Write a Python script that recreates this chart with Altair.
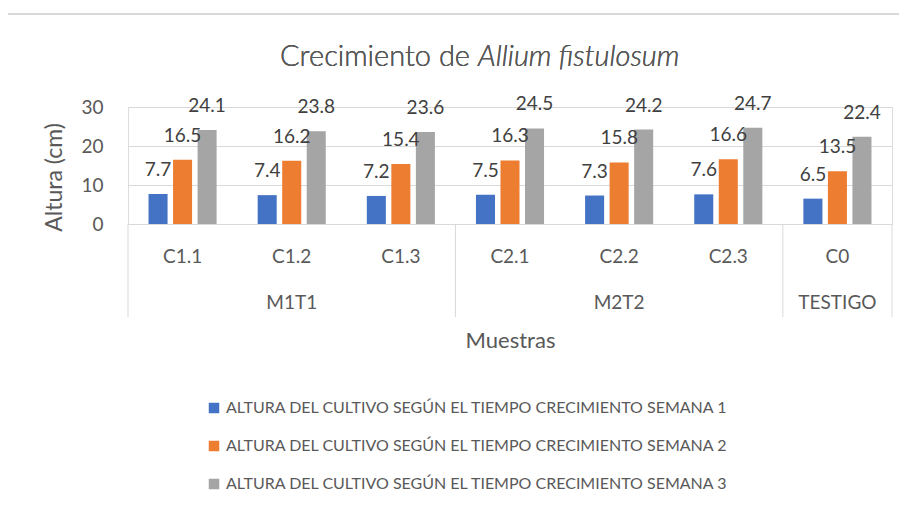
import altair as alt
import pandas as pd

categories = ["C1.1", "C1.2", "C1.3", "C2.1", "C2.2", "C2.3", "C0"]
groups = ["M1T1", "M1T1", "M1T1", "M2T2", "M2T2", "M2T2", "TESTIGO"]
series = [
    "ALTURA DEL CULTIVO SEGÚN EL TIEMPO CRECIMIENTO SEMANA 1",
    "ALTURA DEL CULTIVO SEGÚN EL TIEMPO CRECIMIENTO SEMANA 2",
    "ALTURA DEL CULTIVO SEGÚN EL TIEMPO CRECIMIENTO SEMANA 3",
]
semana1 = [7.7, 7.4, 7.2, 7.5, 7.3, 7.6, 6.5]
semana2 = [16.5, 16.2, 15.4, 16.3, 15.8, 16.6, 13.5]
semana3 = [24.1, 23.8, 23.6, 24.5, 24.2, 24.7, 22.4]
colors = ["#4472C4", "#ED7D31", "#A5A5A5"]
y_ticks = [0, 10, 20, 30]

rows = []
for s, vals in zip(series, [semana1, semana2, semana3]):
    for c, g, v in zip(categories, groups, vals):
        rows.append({"cat": c, "grupo": g, "serie": s, "valor": v})
df = pd.DataFrame(rows)

grp_df = pd.DataFrame({
    "cat": ["C1.2", "C2.2", "C0"],
    "grupo": ["M1T1", "M2T2", "TESTIGO"],
})
sep_start = pd.DataFrame({"cat": ["C1.1", "C2.1", "C0"]})
sep_end = pd.DataFrame({"cat": ["C0"]})

W, H = 764, 117
FONT = "Lato"
TXT = "#595959"

xscale = alt.Scale(domain=categories, paddingInner=0, paddingOuter=0)
x_axis = alt.Axis(title="Muestras", labelAngle=0, ticks=False,
                  domain=True, domainColor="#D9D9D9",
                  labelFontSize=19, labelColor=TXT, labelFont=FONT,
                  labelPadding=32, labelBaseline="middle",
                  titleFontSize=22, titleFontWeight="normal",
                  titleColor=TXT, titleFont=FONT,
                  titleY=116, titleBaseline="middle")
x_enc = alt.X("cat:N", scale=xscale, sort=categories, axis=x_axis)
xoff = alt.XOffset("serie:N", sort=series,
                   scale=alt.Scale(paddingInner=0.224, paddingOuter=0.837))
y_axis = alt.Axis(values=y_ticks, title="Altura (cm)", ticks=False,
                  domain=False, grid=True, gridColor="#D9D9D9",
                  labelOverlap=False,
                  labelFontSize=19, labelColor=TXT, labelFont=FONT,
                  labelPadding=25, titleFontSize=23,
                  titleFontWeight="normal", titleColor=TXT,
                  titleFont=FONT, titleX=-62, titleY=70)
y_enc = alt.Y("valor:Q", scale=alt.Scale(domain=[0, 30], nice=False),
              axis=y_axis)

bars = alt.Chart(df).mark_bar().encode(
    x=x_enc,
    xOffset=xoff,
    y=y_enc,
    color=alt.Color("serie:N", sort=series,
                    scale=alt.Scale(domain=series, range=colors),
                    legend=alt.Legend(title=None, orient="none",
                                      legendX=78, legendY=293,
                                      direction="vertical",
                                      symbolType="square", symbolSize=110,
                                      symbolStrokeWidth=0,
                                      labelFontSize=16, labelColor=TXT,
                                      labelFont=FONT, rowPadding=22,
                                      labelLimit=800, labelOffset=4)),
)

labels = alt.Chart(df).mark_text(fontSize=19, font=FONT, color="#404040",
                                 baseline="middle", dy=-24).encode(
    x=x_enc,
    xOffset=xoff,
    y=y_enc,
    text=alt.Text("valor:Q", format=".1f"),
)

grp_labels = alt.Chart(grp_df).mark_text(fontSize=19, font=FONT, color=TXT,
                                         baseline="middle").encode(
    x=x_enc,
    y=alt.value(196),
    text="grupo:N",
)

sep1 = alt.Chart(sep_start).mark_rule(color="#D9D9D9", strokeWidth=1).encode(
    x=alt.X("cat:N", scale=xscale, sort=categories, bandPosition=0, axis=x_axis),
    y=alt.value(H),
    y2=alt.value(210),
)
sep2 = alt.Chart(sep_end).mark_rule(color="#D9D9D9", strokeWidth=1).encode(
    x=alt.X("cat:N", scale=xscale, sort=categories, bandPosition=1, axis=x_axis),
    y=alt.value(H),
    y2=alt.value(210),
)

title_a = alt.Chart(grp_df).mark_text(fontSize=29, font=FONT, color=TXT,
                                      fontWeight=300,
                                      align="right", baseline="middle").encode(
    x=alt.value(342), y=alt.value(-50), text=alt.value("Crecimiento de")
)
title_b = alt.Chart(grp_df).mark_text(fontSize=29, font=FONT, color=TXT,
                                      fontWeight=300,
                                      align="left", baseline="middle",
                                      fontStyle="italic").encode(
    x=alt.value(350), y=alt.value(-50), text=alt.value("Allium fistulosum")
)

border_top = alt.Chart(grp_df).mark_rule(color="#D9D9D9", strokeWidth=2).encode(
    x=alt.value(-121), x2=alt.value(800), y=alt.value(-93)
)
border_left = alt.Chart(grp_df).mark_rule(color="#D9D9D9", strokeWidth=2).encode(
    x=alt.value(-121), y=alt.value(-93), y2=alt.value(400)
)

chart = alt.layer(
    border_top, border_left, bars, labels, grp_labels, sep1, sep2,
    title_a, title_b
).properties(
    width=W, height=H,
    autosize=alt.AutoSizeParams(type="none"),
    padding={"left": 120, "top": 99, "right": 7, "bottom": 268},
).configure_view(stroke=None).configure(background="white")

chart.save("out.html", embed_options={"renderer": "svg", "actions": False})
